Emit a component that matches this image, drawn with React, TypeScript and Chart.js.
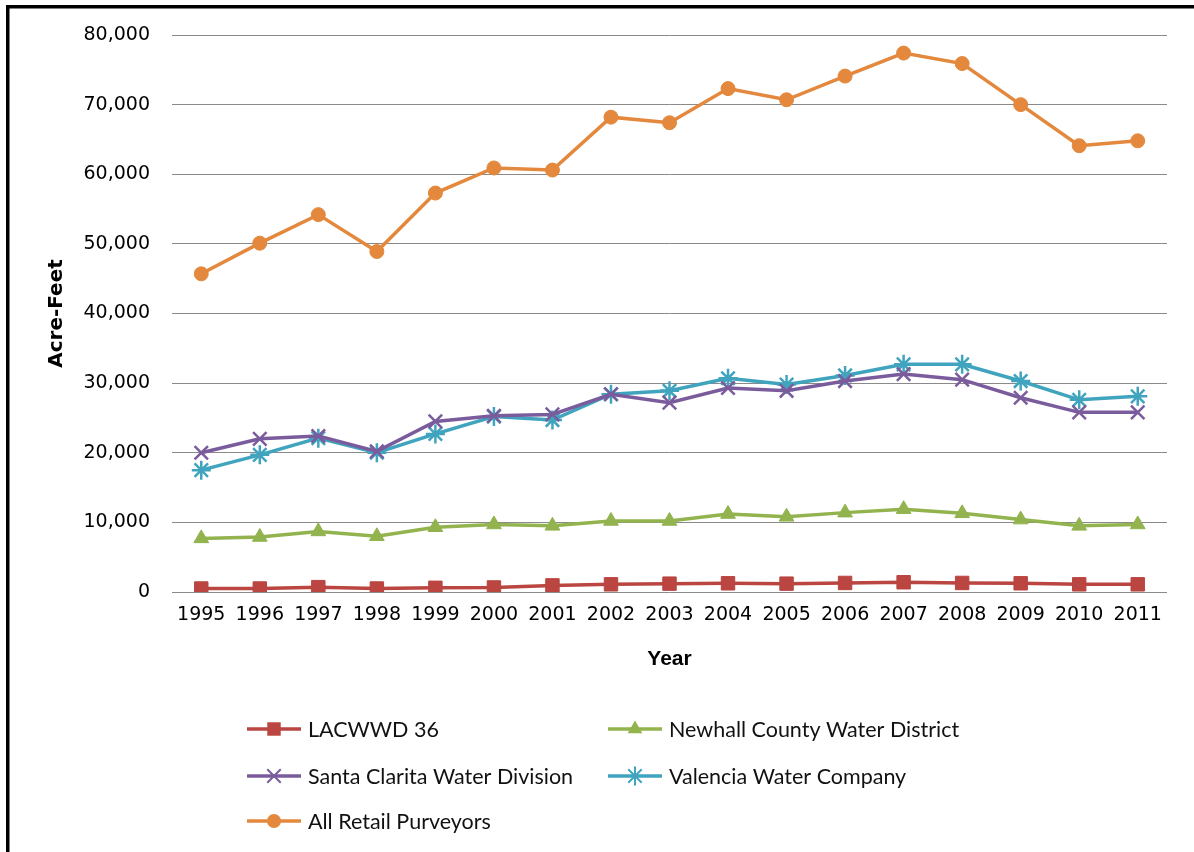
import React, { useEffect, useRef } from "react";
import { Chart, registerables } from "chart.js";

Chart.register(...registerables);

const years = ["1995","1996","1997","1998","1999","2000","2001","2002","2003","2004","2005","2006","2007","2008","2009","2010","2011"];
const lacwwd36 = [500, 500, 700, 500, 600, 650, 950, 1100, 1200, 1250, 1200, 1300, 1400, 1300, 1250, 1100, 1100];
const newhall = [7700, 7900, 8700, 8000, 9300, 9700, 9500, 10200, 10200, 11200, 10800, 11400, 11900, 11300, 10400, 9500, 9700];
const santaClarita = [20000, 22000, 22400, 20200, 24500, 25300, 25500, 28400, 27200, 29300, 28900, 30300, 31300, 30500, 27900, 25800, 25800];
const valencia = [17500, 19700, 22100, 20000, 22700, 25200, 24700, 28400, 28900, 30700, 29800, 31100, 32700, 32700, 30300, 27600, 28100];
const allRetail = [45700, 50100, 54200, 48900, 57300, 60900, 60600, 68200, 67400, 72300, 70700, 74100, 77400, 75900, 70000, 64100, 64800];
const seriesNames = ["LACWWD 36", "Newhall County Water District", "Santa Clarita Water Division", "Valencia Water Company", "All Retail Purveyors"];
const yTicks = [0, 10000, 20000, 30000, 40000, 50000, 60000, 70000, 80000];

const colors = ["#BA4541", "#92B34E", "#7A5C9D", "#40A4BF", "#E3883C"];
const styles = ["rect", "triangle", "crossRot", "star", "circle"];
const radii = [9.5, 8.5, 9.5, 9.5, 7];

function drawMarker(ctx: CanvasRenderingContext2D, style: string, x: number, y: number, r: number, color: string) {
  ctx.save();
  ctx.fillStyle = color;
  ctx.strokeStyle = color;
  ctx.lineWidth = 2;
  ctx.beginPath();
  if (style === "rect") {
    const s = r * Math.SQRT1_2;
    ctx.rect(x - s, y - s, 2 * s, 2 * s);
    ctx.fill();
  } else if (style === "triangle") {
    ctx.moveTo(x, y - r);
    ctx.lineTo(x + r * Math.sin(2 * Math.PI / 3), y + r * 0.5);
    ctx.lineTo(x - r * Math.sin(2 * Math.PI / 3), y + r * 0.5);
    ctx.closePath();
    ctx.fill();
  } else if (style === "circle") {
    ctx.arc(x, y, r, 0, Math.PI * 2);
    ctx.fill();
  } else if (style === "crossRot") {
    const d = r * Math.SQRT1_2;
    ctx.moveTo(x - d, y - d); ctx.lineTo(x + d, y + d);
    ctx.moveTo(x - d, y + d); ctx.lineTo(x + d, y - d);
    ctx.stroke();
  } else if (style === "star") {
    const d = r * Math.SQRT1_2;
    ctx.moveTo(x - d, y - d); ctx.lineTo(x + d, y + d);
    ctx.moveTo(x - d, y + d); ctx.lineTo(x + d, y - d);
    ctx.moveTo(x, y - r); ctx.lineTo(x, y + r);
    ctx.moveTo(x - r, y); ctx.lineTo(x + r, y);
    ctx.stroke();
  }
  ctx.restore();
}

const legendPlugin = {
  id: "customLegendFrame",
  afterDraw(chart: any) {
    const ctx: CanvasRenderingContext2D = chart.ctx;
    ctx.save();
    // frame
    ctx.fillStyle = "#000";
    ctx.fillRect(6, 5, 1188, 3.5);
    ctx.fillRect(6, 5, 3.5, 847);
    // legend
    const pos = [
      [247, 729], [608, 729],
      [247, 776], [608, 776],
      [247, 821],
    ];
    chart.data.datasets.forEach((ds: any, i: number) => {
      const [x0, y0] = pos[i];
      ctx.save();
      ctx.strokeStyle = ds.borderColor;
      ctx.lineWidth = 3.5;
      ctx.beginPath();
      ctx.moveTo(x0, y0);
      ctx.lineTo(x0 + 54, y0);
      ctx.stroke();
      ctx.restore();
      drawMarker(ctx, ds.pointStyle, x0 + 27, y0, ds.pointRadius, ds.borderColor);
      ctx.fillStyle = "#111";
      ctx.font = "21.5px Lato";
      ctx.textBaseline = "middle";
      ctx.textAlign = "left";
      ctx.fillText(ds.label, x0 + 61, y0 + 1);
    });
    ctx.restore();
  },
};

export default function App() {
  const canvasRef = useRef<HTMLCanvasElement | null>(null);

  useEffect(() => {
    document.body.style.margin = "0";
    const canvas = canvasRef.current;
    if (!canvas) return;
    const seriesData = [lacwwd36, newhall, santaClarita, valencia, allRetail];
    const chart = new Chart(canvas, {
      type: "line",
      data: {
        labels: years,
        datasets: seriesData.map((d, i) => ({
          label: seriesNames[i],
          data: d,
          borderColor: colors[i],
          backgroundColor: colors[i],
          pointBackgroundColor: colors[i],
          pointBorderColor: colors[i],
          pointStyle: styles[i] as any,
          pointRadius: radii[i],
          pointBorderWidth: i === 2 || i === 3 ? 2.5 : 1,
          borderWidth: 3.5,
          tension: 0,
          fill: false,
        })),
      },
      options: {
        responsive: false,
        animation: false,
        devicePixelRatio: 1,
        layout: { padding: { left: 8, right: 27, top: 35, bottom: 0 } },
        plugins: {
          legend: { display: false },
          tooltip: { enabled: false },
        },
        scales: {
          x: {
            offset: true,
            grid: { display: false, drawTicks: false },
            border: { display: false },
            ticks: {
              padding: 12,
              color: "#000",
              font: { family: "DejaVu Sans", size: 19 },
              maxRotation: 0,
              autoSkip: false,
            },
            title: {
              display: true,
              text: "Year",
              color: "#000",
              font: { family: "Liberation Sans", size: 21, weight: "bold" },
              padding: { top: 0, bottom: 180 },
            },
            afterFit: (s: any) => { s.height = 260; },
          },
          y: {
            min: 0,
            max: 80000,
            afterBuildTicks: (s: any) => { s.ticks = yTicks.map((v) => ({ value: v })); },
            grid: { color: "#8a8a8a", lineWidth: 1, drawTicks: false },
            border: { display: false },
            ticks: {
              padding: 22,
              color: "#000",
              font: { family: "DejaVu Sans", size: 19 },
              callback: (v: any) => Number(v).toLocaleString("en-US"),
            },
            title: {
              display: true,
              text: "Acre-Feet",
              color: "#000",
              font: { family: "DejaVu Sans", size: 20, weight: "bold" },
              padding: { top: 37, bottom: 0 },
            },
            afterFit: (s: any) => { s.width = 164; },
          },
        },
      },
      plugins: [legendPlugin],
    });
    return () => chart.destroy();
  }, []);

  return (
    <div style={{ width: 1194, height: 852, background: "#fff" }}>
      <canvas ref={canvasRef} width={1194} height={852} />
    </div>
  );
}
